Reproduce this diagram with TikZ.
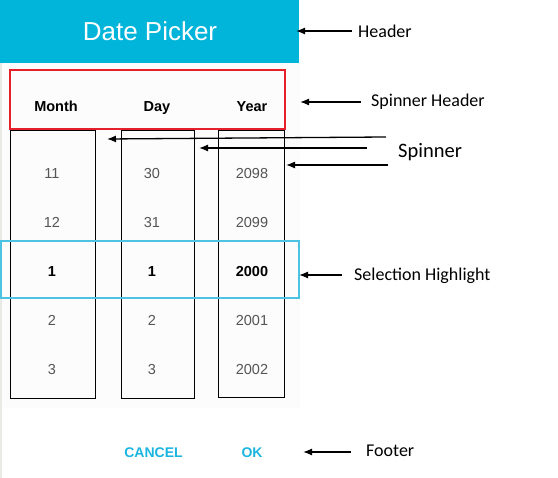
\documentclass[tikz,border=0pt]{standalone}
\usepackage{fontspec}
\setmainfont{Liberation Sans}
\newfontfamily\lblfont{Carlito}
\usetikzlibrary{arrows.meta}
\definecolor{hdrblue}{HTML}{00B4DA}
\definecolor{selblue}{HTML}{4DC3E3}
\definecolor{btnblue}{HTML}{1BB5E0}
\definecolor{redbox}{HTML}{E5202A}
\definecolor{numgray}{HTML}{555555}
\definecolor{panel}{HTML}{FCFCFC}
\definecolor{edge}{HTML}{EAEAE4}
\tikzset{
  arr/.style={line width=1.3pt,-{Latex[length=9pt,width=7pt]}},
  colbox/.style={draw=black,line width=0.9pt,inner sep=0pt},
  colhead/.style={font=\fontsize{14.5}{16}\selectfont\bfseries,anchor=base,inner sep=0pt},
  num/.style={font=\fontsize{14.5}{16}\selectfont,text=numgray,anchor=base,inner sep=0pt},
  selnum/.style={font=\fontsize{14.5}{16}\selectfont\bfseries,text=black,anchor=base,inner sep=0pt},
  btn/.style={font=\fontsize{14}{16}\selectfont\bfseries,text=btnblue,anchor=base,inner sep=0pt},
  lbl/.style={font=\lblfont\fontsize{18}{20}\selectfont,anchor=base west,inner sep=0pt},
  tip/.style={inner sep=0pt,minimum size=0pt}
}
\begin{document}
\begin{tikzpicture}[x=1pt,y=-1pt]
\useasboundingbox (0,0) rectangle (558,478);
\fill[white] (0,0) rectangle (558,478);
% dialog panel
\fill[panel] (0,63) rectangle (300,408);
\fill[edge] (0,0) rectangle (2,478);
% header
\node[fill=hdrblue,minimum width=299pt,minimum height=63pt,anchor=north west,inner sep=0pt] (header) at (0,0) {};
\node[font=\fontsize{26}{30}\selectfont,text=white,anchor=base,inner sep=0pt] (title) at (150,41) {Date Picker};
% spinner columns
\node[colbox,minimum width=85pt,minimum height=268pt] (colM) at (52.5,264) {};
\node[colbox,minimum width=73pt,minimum height=268pt] (colD) at (157.5,264) {};
\node[colbox,minimum width=66pt,minimum height=267pt] (colY) at (251,263.5) {};
% spinner header box
\node[draw=redbox,line width=2pt,minimum width=275pt,minimum height=59pt,inner sep=0pt] (spinhdr) at (147.5,99.5) {};
\node[colhead] (hM) at (56,112) {Month};
\node[colhead] (hD) at (157,112) {Day};
\node[colhead] (hY) at (252,112) {Year};
% selection highlight
\node[draw=selblue,line width=1.2pt,minimum width=298pt,minimum height=57pt,inner sep=0pt] (sel) at (150,269.5) {};
% numbers
\node[num] (m1) at (52,179) {11};
\node[num] (m2) at (52,228) {12};
\node[selnum] (m3) at (52,277) {1};
\node[num] (m4) at (52,326) {2};
\node[num] (m5) at (52,375) {3};
\node[num] (d1) at (152,179) {30};
\node[num] (d2) at (152,228) {31};
\node[selnum] (d3) at (152,277) {1};
\node[num] (d4) at (152,326) {2};
\node[num] (d5) at (152,375) {3};
\node[num] (y1) at (252,179) {2098};
\node[num] (y2) at (252,228) {2099};
\node[selnum] (y3) at (252,277) {2000};
\node[num] (y4) at (252,326) {2001};
\node[num] (y5) at (252,375) {2002};
% footer buttons
\node[btn] (cancel) at (153.5,458) {CANCEL};
\node[btn] (ok) at (252,458) {OK};
% labels
\node[lbl] (lHeader) at (358,38) {Header};
\node[lbl] (lSpinHdr) at (371,107) {Spinner Header};
\node[lbl,font=\lblfont\fontsize{20.5}{22}\selectfont] (lSpinner) at (398,158) {Spinner};
\node[lbl] (lSel) at (354,281) {Selection Highlight};
\node[lbl] (lFooter) at (366,457) {Footer};
% arrow ends
\coordinate (tHeader) at (352,31);   \coordinate (hHeader) at (296,31);
\coordinate (tSpinHdr) at (361,102); \coordinate (hSpinHdr) at (300,102);
\coordinate (tS1) at (386,137);      \coordinate (hS1) at (107,139);
\coordinate (tS2) at (367,148);      \coordinate (hS2) at (199,148);
\coordinate (tS3) at (388,165);      \coordinate (hS3) at (286,165);
\coordinate (tSel) at (342,275);     \coordinate (hSel) at (299,275);
\coordinate (tFooter) at (351,452);  \coordinate (hFooter) at (303,452);
\draw[arr] (tHeader) -- (hHeader);
\draw[arr] (tSpinHdr) -- (hSpinHdr);
\draw[arr] (tS1) -- (hS1);
\draw[arr] (tS2) -- (hS2);
\draw[arr] (tS3) -- (hS3);
\draw[arr] (tSel) -- (hSel);
\draw[arr] (tFooter) -- (hFooter);
\end{tikzpicture}
\end{document}
